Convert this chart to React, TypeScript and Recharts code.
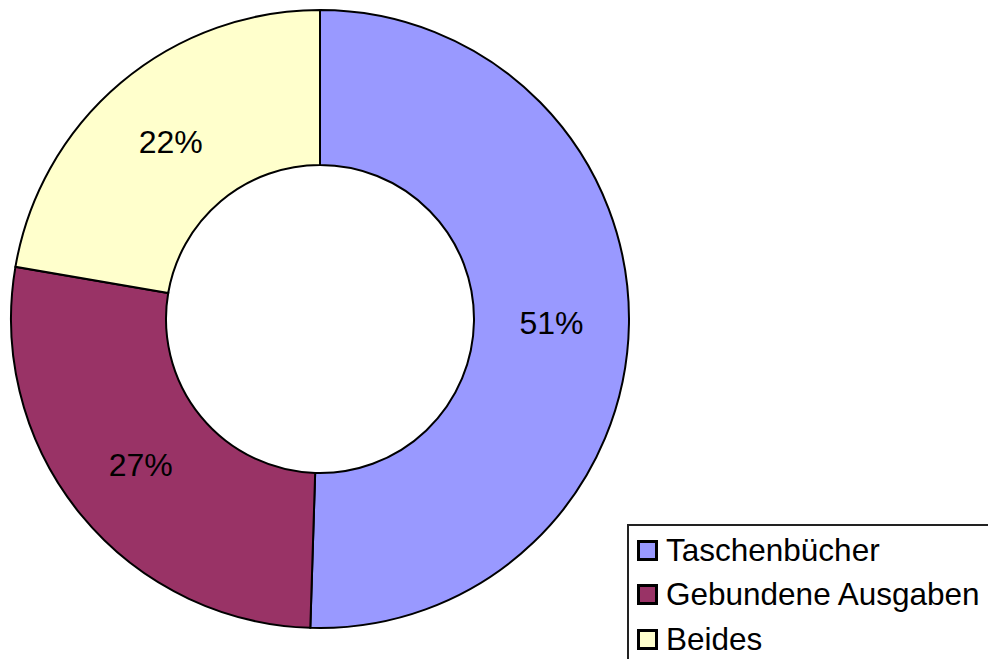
import React from 'react';
import {PieChart, Pie, Cell, Legend} from 'recharts';

const categories = ['Taschenbücher', 'Gebundene Ausgaben', 'Beides'];
const shares = [50.5, 27.2, 22.3];
const labels = ['51%', '27%', '22%'];
const COLORS = ['#9999FF', '#993366', '#FFFFCC'];

const data = categories.map((name, i) => ({name, value: shares[i], label: labels[i]}));

const RADIAN = Math.PI / 180;
const FONT = "'Liberation Sans', Arial, sans-serif";

const renderLabel = (props: any) => {
     const {cx, cy, midAngle, innerRadius, outerRadius, index} = props;
     const r = (innerRadius + outerRadius) / 2;
     const x = cx + r * Math.cos(-midAngle * RADIAN);
     const y = cy + r * Math.sin(-midAngle * RADIAN);
     return (
          <text
               x={x}
               y={y}
               fill="#000"
               fontSize={32}
               fontFamily={FONT}
               textAnchor="middle"
               dominantBaseline="central"
          >
               {data[index].label}
          </text>
     );
};

const renderLegend = () => (
     <div
          style={{
               width: 361,
               height: 135,
               boxSizing: 'border-box',
               borderLeft: '2px solid #222',
               borderTop: '2px solid #222',
               background: '#fff',
               paddingTop: 2,
               paddingLeft: 8,
               fontFamily: FONT,
               fontSize: 31.5,
               color: '#000',
          }}
     >
          {data.map((entry, index) => (
               <div
                    key={`leg-${index}`}
                    style={{display: 'flex', alignItems: 'center', height: 44.5, whiteSpace: 'nowrap'}}
               >
                    <span
                         style={{
                              display: 'inline-block',
                              width: 15,
                              height: 15,
                              border: '3px solid #000',
                              background: COLORS[index],
                              marginRight: 8,
                         }}
                    />
                    {entry.name}
               </div>
          ))}
     </div>
);

const App = () => {
     return (
          <div style={{position: 'absolute', left: 0, top: 0, background: '#fff'}}>
               <PieChart width={988} height={659} margin={{top: 0, right: 0, bottom: 0, left: 0}}>
                    <Pie
                         data={data}
                         cx={320}
                         cy={319}
                         innerRadius={154}
                         outerRadius={309}
                         startAngle={90}
                         endAngle={-270}
                         dataKey="value"
                         stroke="#000"
                         strokeWidth={2}
                         label={renderLabel}
                         labelLine={false}
                         isAnimationActive={false}
                    >
                         {data.map((entry, index) => (
                              <Cell key={`cell-${index}`} fill={COLORS[index]} />
                         ))}
                    </Pie>
                    <Legend
                         content={renderLegend}
                         wrapperStyle={{position: 'absolute', left: 627, top: 524, width: 361, height: 135}}
                    />
               </PieChart>
          </div>
     );
};

export default App;
